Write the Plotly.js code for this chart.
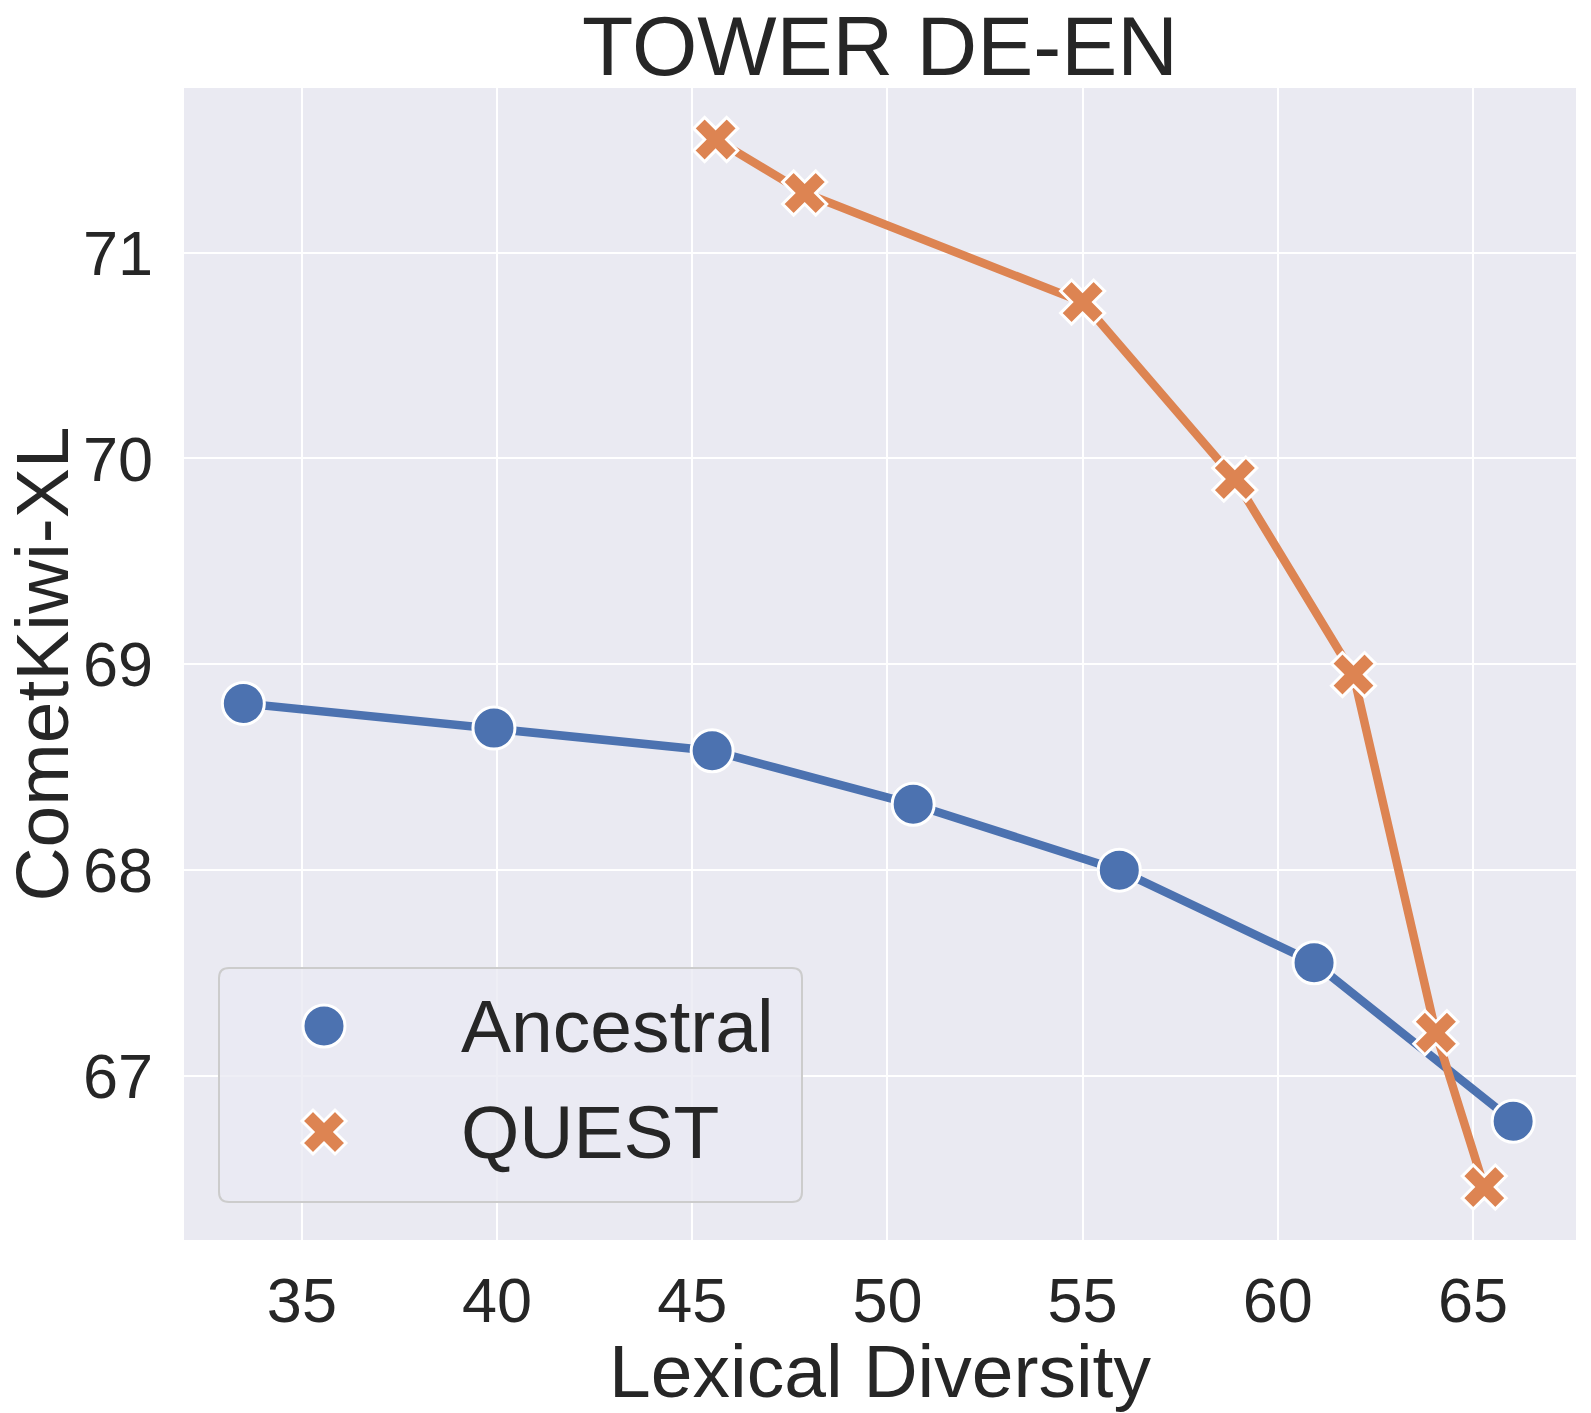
<!DOCTYPE html>
<html>
<head>
<meta charset="utf-8">
<script src="https://cdn.plot.ly/plotly-3.0.1.min.js"></script>
<style>html,body{margin:0;padding:0;background:#fff;}#chart{width:1591px;height:1413px;}</style>
</head>
<body>
<div id="chart"></div>
<script>
// ---- data ----
const ancestralX = [33.50, 39.92, 45.51, 50.66, 55.94, 60.93, 66.03];
const ancestralY = [68.81, 68.69, 68.58, 68.32, 68.00, 67.55, 66.78];
const questX = [45.60, 47.88, 55.00, 58.90, 61.94, 64.05, 65.29];
const questY = [71.55, 71.29, 70.76, 69.90, 68.95, 67.21, 66.46];
const seriesNames = ["Ancestral", "QUEST"];
const xTicks = [35, 40, 45, 50, 55, 60, 65];
const yTicks = [67, 68, 69, 70, 71];
const chartTitle = "TOWER DE-EN";
const xTitle = "Lexical Diversity";
const yTitle = "CometKiwi-XL";

// ---- styling ----
const BLUE = "#4C72B0", ORANGE = "#DD8452", BG = "#EAEAF2", TXT = "#262626";
const FONT = "Liberation Sans, Arial, sans-serif";
const W = 1591, H = 1413;
const M = {l: 184, r: 15, t: 88, b: 173};
const PW = W - M.l - M.r, PH = H - M.t - M.b;

const traces = [
  {x: ancestralX, y: ancestralY, name: seriesNames[0], type: "scatter", mode: "lines+markers",
   line: {color: BLUE, width: 8.5},
   marker: {symbol: "circle", size: 42, color: BLUE, line: {color: "#ffffff", width: 3}},
   showlegend: false},
  {x: questX, y: questY, name: seriesNames[1], type: "scatter", mode: "lines+markers",
   line: {color: ORANGE, width: 8.5},
   marker: {symbol: "x", size: 39, color: ORANGE, line: {color: "#ffffff", width: 3}},
   showlegend: false}
];

// custom legend (pixel coords relative to plot bottom-left)
function roundRect(x0, y0, x1, y1, r) {
  return `M${x0+r},${y0} L${x1-r},${y0} Q${x1},${y0} ${x1},${y0+r} L${x1},${y1-r} Q${x1},${y1} ${x1-r},${y1} L${x0+r},${y1} Q${x0},${y1} ${x0},${y1-r} L${x0},${y0+r} Q${x0},${y0} ${x0+r},${y0} Z`;
}
function xPath(cx, cy, rx) {
  const p = [[0,rx],[rx,2*rx],[2*rx,rx],[rx,0],[2*rx,-rx],[rx,-2*rx],[0,-rx],[-rx,-2*rx],[-2*rx,-rx],[-rx,0],[-2*rx,rx],[-rx,2*rx]];
  return "M" + p.map(q => (cx+q[0]) + "," + (cy+q[1])).join(" L") + " Z";
}
const legX = 140, legY1 = 214, legY2 = 108;
const pix = {xref: "paper", yref: "paper", xsizemode: "pixel", ysizemode: "pixel", xanchor: 0, yanchor: 0};
const shapes = [
  Object.assign({type: "path", path: roundRect(35, 38, 618, 272, 10),
    fillcolor: "rgba(234,234,242,0.8)", line: {color: "#CCCCCC", width: 2}, layer: "above"}, pix),
  Object.assign({type: "circle", x0: legX-21, x1: legX+21, y0: legY1-21, y1: legY1+21,
    fillcolor: BLUE, line: {color: "#ffffff", width: 3}, layer: "above"}, pix),
  Object.assign({type: "path", path: xPath(legX, legY2, 11),
    fillcolor: ORANGE, line: {color: "#ffffff", width: 3}, layer: "above"}, pix)
];
const annotations = [
  {xref: "paper", yref: "paper", x: (459-184)/PW, y: legY1/PH, xanchor: "left", yanchor: "middle",
   text: seriesNames[0], showarrow: false, font: {family: FONT, size: 75, color: TXT}},
  {xref: "paper", yref: "paper", x: (459-184)/PW, y: legY2/PH, xanchor: "left", yanchor: "middle",
   text: seriesNames[1], showarrow: false, font: {family: FONT, size: 75, color: TXT}}
];

const layout = {
  width: W, height: H, margin: M,
  paper_bgcolor: "#ffffff", plot_bgcolor: BG,
  font: {family: FONT, color: TXT},
  title: {text: chartTitle, font: {family: FONT, size: 84, color: TXT},
          x: (M.l + PW/2)/W, xanchor: "center", y: 1 - 46/H, yanchor: "middle", yref: "container"},
  xaxis: {range: [31.98, 67.64], tickvals: xTicks, ticktext: xTicks.map(String),
          showgrid: true, gridcolor: "#ffffff", gridwidth: 2, zeroline: false, showline: false,
          ticks: "", ticklabelstandoff: 18, tickfont: {family: FONT, size: 63, color: TXT},
          title: {text: xTitle, font: {family: FONT, size: 75, color: TXT}, standoff: 12}},
  yaxis: {range: [66.203, 71.80], tickvals: yTicks, ticktext: yTicks.map(String),
          showgrid: true, gridcolor: "#ffffff", gridwidth: 2, zeroline: false, showline: false,
          ticks: "", ticklabelstandoff: 30, tickfont: {family: FONT, size: 63, color: TXT},
          title: {text: yTitle, font: {family: FONT, size: 75, color: TXT}, standoff: 13}},
  shapes: shapes, annotations: annotations, showlegend: false
};

Plotly.newPlot("chart", traces, layout, {displayModeBar: false, staticPlot: true});
</script>
</body>
</html>
